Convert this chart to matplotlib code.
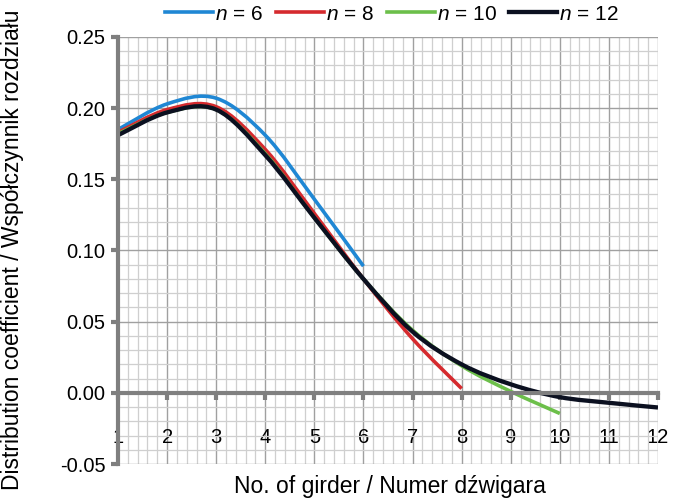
import numpy as np
import matplotlib.pyplot as plt
from matplotlib.path import Path
from matplotlib.patches import PathPatch
from matplotlib.lines import Line2D
from matplotlib.ticker import MultipleLocator

plt.rcParams['font.family'] = ['Liberation Sans', 'DejaVu Sans']
plt.rcParams['mathtext.fontset'] = 'custom'
plt.rcParams['mathtext.it'] = 'Liberation Sans:italic'
plt.rcParams['mathtext.rm'] = 'Liberation Sans'

# distribution coefficient per girder
coef_n6 = [0.185, 0.203, 0.207, 0.181, 0.136, 0.089]
coef_n8 = [0.183, 0.199, 0.201, 0.171, 0.126, 0.080, 0.038, 0.003]
coef_n10 = [0.182, 0.197, 0.199, 0.168, 0.123, 0.080, 0.044, 0.019, 0.001, -0.0145]
coef_n12 = [0.181, 0.197, 0.199, 0.167, 0.123, 0.080, 0.043, 0.020, 0.006, -0.003, -0.007, -0.0103]

series = [coef_n6, coef_n8, coef_n10, coef_n12]
labels = ['$n$ = 6', '$n$ = 8', '$n$ = 10', '$n$ = 12']
colors = ['#1f87d4', '#d52a2e', '#6cbf4a', '#0b1020']
widths = [2.6, 2.6, 2.6, 3.1]

xticks = list(range(1, 13))
yticks = [-0.05, 0.0, 0.05, 0.10, 0.15, 0.20, 0.25]
ytick_labels = ['-0.05', '0.00', '0.05', '0.10', '0.15', '0.20', '0.25']


def smooth_path(yvals):
    # excel style smoothed line: bezier segments through the points
    pts = np.column_stack([np.arange(1, len(yvals) + 1), yvals]).astype(float)
    n = len(pts)
    verts = [pts[0]]
    codes = [Path.MOVETO]
    for i in range(n - 1):
        prev = pts[i - 1] if i > 0 else pts[i]
        nxt = pts[i + 2] if i + 2 < n else pts[i + 1]
        verts += [pts[i] + (pts[i + 1] - prev) / 6, pts[i + 1] - (nxt - pts[i]) / 6, pts[i + 1]]
        codes += [Path.CURVE4] * 3
    return Path(verts, codes)


fig = plt.figure(figsize=(6.81, 5.03), dpi=100)
ax = fig.add_axes([118 / 681, 39 / 503, 540 / 681, 427 / 503])

ax.set_xlim(1, 12)
ax.set_ylim(-0.05, 0.25)
ax.set_xticks(xticks)
ax.set_yticks(yticks)
ax.set_yticklabels(ytick_labels)
ax.xaxis.set_minor_locator(MultipleLocator(0.2))
ax.yaxis.set_minor_locator(MultipleLocator(0.01))
ax.grid(which='minor', color='#cfcfcf', lw=0.9)
ax.grid(which='major', color='#a0a0a0', lw=1.0)
ax.set_axisbelow(True)

for s in ['top', 'right']:
    ax.spines[s].set_visible(False)
ax.spines['bottom'].set_position(('data', 0))
for s in ['left', 'bottom']:
    ax.spines[s].set_color('#7f7f7f')
    ax.spines[s].set_linewidth(3)

ax.tick_params(which='minor', length=0)
ax.tick_params(axis='x', which='major', direction='out', length=5, width=3,
               color='#7f7f7f', pad=20, labelsize=14.5)
ax.tick_params(axis='y', which='major', direction='out', length=5, width=3,
               color='#7f7f7f', pad=4, labelsize=14.5)

handles = []
for vals, lab, col, lw in zip(series, labels, colors, widths):
    ax.add_patch(PathPatch(smooth_path(vals), fill=False, edgecolor=col, lw=lw,
                           capstyle='butt'))
    handles.append(Line2D([], [], color=col, lw=lw))

fig.legend(handles, labels, loc='center', bbox_to_anchor=(392 / 681, 0.972),
           ncol=4, frameon=False, fontsize=15, handlelength=2.3,
           handletextpad=0.1, columnspacing=0.6, borderpad=0)

fig.text(390 / 681, 1 - 487 / 503, 'No. of girder / Numer dźwigara',
         ha='center', va='center', fontsize=16.5)
fig.text(13 / 681, 1 - 250 / 503, 'Distribution coefficient / Współczynnik rozdziału',
         ha='center', va='center', rotation=90, fontsize=16.5)

fig.savefig('out.png', dpi=100)
